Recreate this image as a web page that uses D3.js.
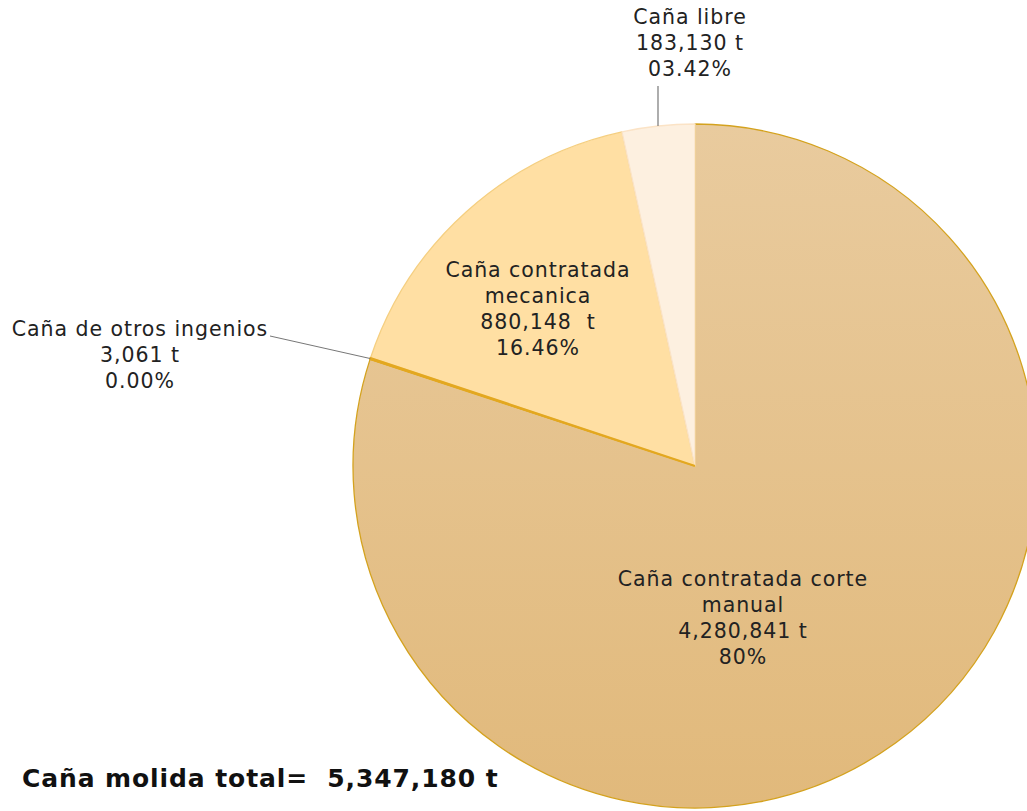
<!DOCTYPE html>
<html>
<head>
<meta charset="utf-8">
<script src="https://cdn.jsdelivr.net/npm/d3@7"></script>
<style>
  body { margin: 0; background: #fff; }
  svg { display: block; }
  text { font-family: "DejaVu Sans", sans-serif; fill: #222; }
</style>
</head>
<body>
<svg></svg>
<script>
'use strict';
// slices, clockwise from 12 o'clock
var categories = ["Caña contratada corte manual", "Caña de otros ingenios", "Caña contratada mecanica", "Caña libre"];
var values = [4280841, 3061, 880148, 183130];
var valueLabels = ["4,280,841 t", "3,061 t", "880,148  t", "183,130 t"];
var pctLabels = ["80%", "0.00%", "16.46%", "03.42%"];
var totalLabel = "Caña molida total=  5,347,180 t";

var width = 1027;
var height = 811;
var cx = 695, cy = 466, radius = 342;

var fills = ["url(#gradManual)", "#E8B23A", "#FFDFA3", "#FDF0E0"];
var strokes = ["#D4A21E", "#E3A820", "#F5CF80", "#FBE3C6"];

var svg = d3.select("svg")
    .attr("width", width)
    .attr("height", height);

var defs = svg.append("defs");
var grad = defs.append("linearGradient")
    .attr("id", "gradManual")
    .attr("x1", 0).attr("y1", 0).attr("x2", 0).attr("y2", 1);
grad.append("stop").attr("offset", "0%").attr("stop-color", "#E9CB9E");
grad.append("stop").attr("offset", "100%").attr("stop-color", "#E1B97B");

var data = categories.map(function (c, i) {
    return {name: c, value: values[i], vLabel: valueLabels[i], pct: pctLabels[i], i: i};
});

var pie = d3.pie()
    .sort(null)
    .value(function (d) { return d.value; });

var arc = d3.arc()
    .innerRadius(0)
    .outerRadius(radius);

var g = svg.append("g")
    .attr("transform", "translate(" + cx + "," + cy + ")");

var arcs = pie(data);

g.selectAll(".slice")
    .data(arcs)
    .enter()
    .append("path")
    .attr("class", "slice")
    .attr("d", arc)
    .attr("fill", function (d) { return fills[d.data.i]; })
    .attr("stroke", function (d) { return strokes[d.data.i]; })
    .attr("stroke-width", 1.3)
    .attr("stroke-linejoin", "round");

// redraw the thin slice on top so its edge shows
g.append("path")
    .datum(arcs[1])
    .attr("d", arc)
    .attr("fill", fills[1])
    .attr("stroke", strokes[1])
    .attr("stroke-width", 2);

function edgePoint(d, r) {
    var a = (d.startAngle + d.endAngle) / 2;
    return [cx + r * Math.sin(a), cy - r * Math.cos(a)];
}

// label positions (page coords) for the first line
var labelPos = [
    {x: 743, y: 586, lines: ["Caña contratada corte", "manual"]},
    {x: 140, y: 336, lines: ["Caña de otros ingenios"]},
    {x: 538, y: 277, lines: ["Caña contratada", "mecanica"]},
    {x: 690, y: 24, lines: ["Caña libre"]}
];
var lineH = 26;

arcs.forEach(function (d) {
    var p = labelPos[d.data.i];
    var lines = p.lines.concat([d.data.vLabel, d.data.pct]);
    var t = svg.append("text")
        .attr("text-anchor", "middle")
        .attr("font-size", 20.5)
        .attr("letter-spacing", 0.95)
        .attr("xml:space", "preserve");
    lines.forEach(function (l, k) {
        t.append("tspan")
            .attr("x", p.x)
            .attr("y", p.y + k * lineH)
            .text(l);
    });
});

// leader lines
var otros = edgePoint(arcs[1], radius);
svg.append("polyline")
    .attr("points", [[270, 336], otros].map(function (p) { return p.join(","); }).join(" "))
    .attr("fill", "none")
    .attr("stroke", "#777")
    .attr("stroke-width", 1);

svg.append("line")
    .attr("x1", 658).attr("y1", 86)
    .attr("x2", 658).attr("y2", cy - Math.sqrt(radius * radius - (658 - cx) * (658 - cx)))
    .attr("stroke", "#777")
    .attr("stroke-width", 1.2);

svg.append("text")
    .attr("x", 22)
    .attr("y", 787)
    .attr("font-size", 25)
    .attr("font-weight", "bold")
    .attr("letter-spacing", 0.9)
    .attr("xml:space", "preserve")
    .style("fill", "#111")
    .text(totalLabel);
</script>
</body>
</html>
